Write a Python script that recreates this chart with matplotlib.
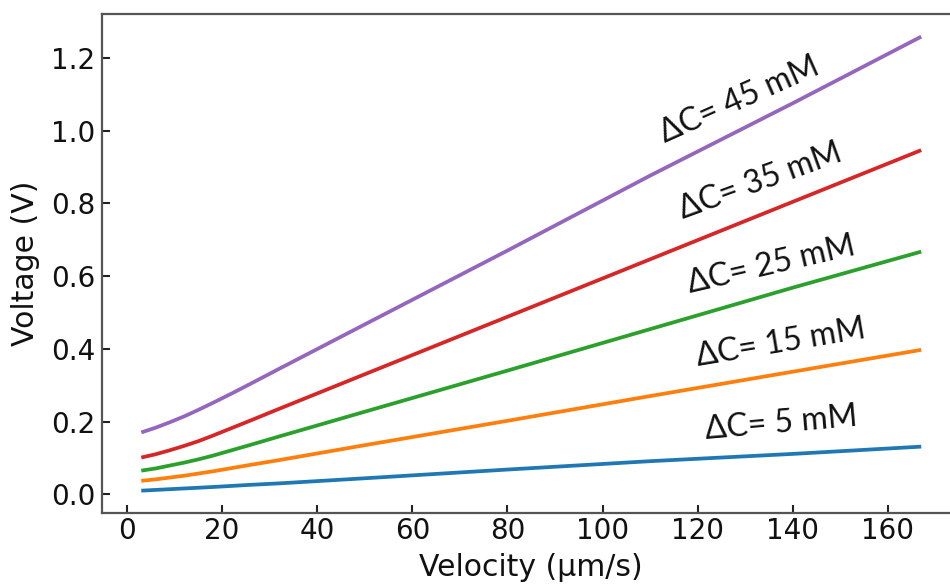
import matplotlib
matplotlib.use("Agg")
import matplotlib.pyplot as plt

# Velocity (um/s) sample points and voltage (V) for each concentration difference
velocity = [3, 6, 9, 12, 15, 18, 22, 26, 32, 50, 80, 110, 140, 167]
v_5mM = [0.010, 0.012, 0.014, 0.016, 0.018, 0.020, 0.023, 0.026, 0.030,
         0.044, 0.068, 0.091, 0.111, 0.131]
v_15mM = [0.037, 0.041, 0.046, 0.051, 0.057, 0.063, 0.072, 0.081, 0.094,
          0.135, 0.202, 0.270, 0.337, 0.397]
v_25mM = [0.065, 0.071, 0.079, 0.087, 0.096, 0.106, 0.121, 0.136, 0.159,
          0.227, 0.340, 0.454, 0.568, 0.667]
v_35mM = [0.101, 0.110, 0.121, 0.133, 0.146, 0.161, 0.182, 0.203, 0.235,
          0.330, 0.488, 0.646, 0.804, 0.946]
v_45mM = [0.170, 0.183, 0.198, 0.214, 0.232, 0.251, 0.277, 0.304, 0.345,
          0.467, 0.670, 0.876, 1.075, 1.258]

series = [v_5mM, v_15mM, v_25mM, v_35mM, v_45mM]
labels = ["ΔC= 5 mM", "ΔC= 15 mM", "ΔC= 25 mM", "ΔC= 35 mM", "ΔC= 45 mM"]
colors = ["#1f77b4", "#ff7f0e", "#2ca02c", "#d62728", "#9467bd"]

# label placement (data coords) and rotation angle
label_x = [137.5, 137.5, 135.4, 133.1, 128.7]
label_y = [0.195, 0.415, 0.630, 0.861, 1.084]
label_rot = [5, 9.5, 13, 20, 24]

W, H = 950, 584
fig = plt.figure(figsize=(W / 100, H / 100), dpi=100)
ax = fig.add_axes([102.3 / W, (H - 513.2) / H, 857.9 / W, 499.1 / H])

for ys, c in zip(series, colors):
    ax.plot(velocity, ys, color=c, lw=2.7, solid_capstyle="butt")

ax.set_xlim(-5.2, 175.2)
ax.set_ylim(-0.052, 1.320)
ax.set_xticks([0, 20, 40, 60, 80, 100, 120, 140, 160])
ax.set_yticks([0.0, 0.2, 0.4, 0.6, 0.8, 1.0, 1.2])
ax.set_yticklabels(["0.0", "0.2", "0.4", "0.6", "0.8", "1.0", "1.2"])

for s in ax.spines.values():
    s.set_color("#555555")
    s.set_linewidth(1.6)

ax.tick_params(direction="in", length=5.5, width=1.5, color="#222222",
               labelsize=20, labelcolor="#111111")
ax.tick_params(axis="x", pad=2.5)
ax.tick_params(axis="y", pad=5)

ax.set_xlabel("Velocity (μm/s)", fontsize=21.5, color="#111111", labelpad=6)
ax.set_ylabel("Voltage (V)", fontsize=21.5, color="#111111", labelpad=8)

for lx, ly, lr, t in zip(label_x, label_y, label_rot, labels):
    ax.text(lx, ly, t, rotation=lr, rotation_mode="anchor", ha="center",
            va="center", fontsize=23, color="#111111",
            family=["Lato", "DejaVu Sans"])

fig.savefig("out.png", dpi=100)
